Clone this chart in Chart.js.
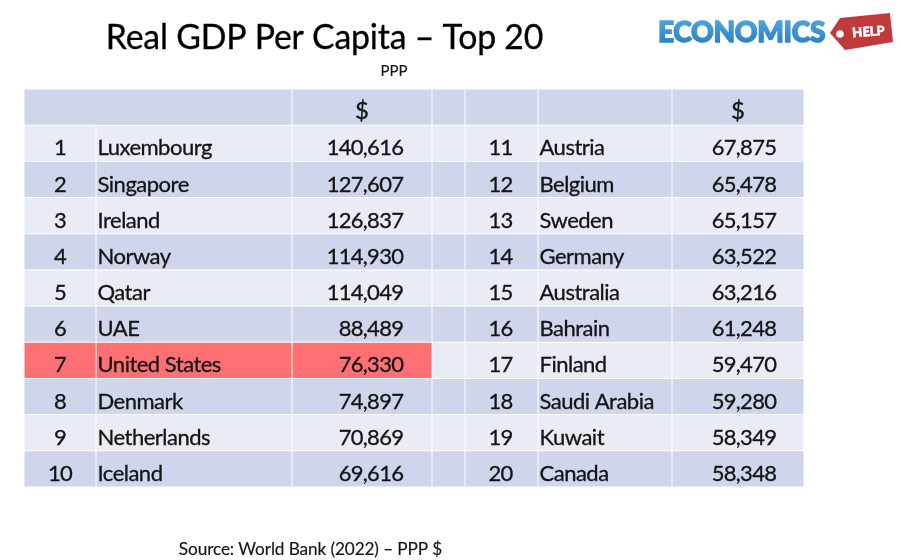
<!DOCTYPE html>
<html><head><meta charset="utf-8">
<style>html,body{margin:0;padding:0;background:#fff}#w{width:900px;height:560px}</style>
<script src="https://cdn.jsdelivr.net/npm/chart.js@4"></script></head>
<body><div id="w"><canvas id="c"></canvas></div>
<script>
const ranksLeft = [1,2,3,4,5,6,7,8,9,10];
const countriesLeft = ["Luxembourg","Singapore","Ireland","Norway","Qatar","UAE","United States","Denmark","Netherlands","Iceland"];
const gdpLeft = [140616,127607,126837,114930,114049,88489,76330,74897,70869,69616];
const ranksRight = [11,12,13,14,15,16,17,18,19,20];
const countriesRight = ["Austria","Belgium","Sweden","Germany","Australia","Bahrain","Finland","Saudi Arabia","Kuwait","Canada"];
const gdpRight = [67875,65478,65157,63522,63216,61248,59470,59280,58349,58348];
const unitLabel = "$";
const titleText = "Real GDP Per Capita \u2013 Top 20";
const subtitleText = "PPP";
const sourceText = "Source: World Bank (2022) \u2013 PPP $";
const columnSpans = [72,196,140,33,73,134,132];

const FONT = 'Lato, sans-serif';
const INK = '#141414';
const rows = ['header', ...ranksLeft.map(String)];
const highlightRow = countriesLeft.indexOf('United States') + 1;
const DARK = '#cfd5ea', LIGHT = '#e9ebf5', RED = '#ff7074';
function cellColor(rowIdx, colIdx){
  if (rowIdx === highlightRow && colIdx <= 2) return RED;
  return rowIdx % 2 === 0 ? DARK : LIGHT;
}
const total = columnSpans.reduce((a,b)=>a+b,0);
const datasets = columnSpans.map((span,col)=>({
  label:'col'+col,
  data: rows.map((_,r)=>{
    if (r===0 && col===0) return columnSpans[0]+columnSpans[1];
    if (r===0 && col===1) return null;
    return span;
  }),
  backgroundColor: rows.map((_,r)=>cellColor(r,col)),
  borderColor:'#ffffff', borderWidth:0.8, borderSkipped:false,
  barPercentage:1, categoryPercentage:1, stack:'t'
}));
const fmt = n => n.toLocaleString('en-US');

const tableText = {
  id:'tableText',
  afterDatasetsDraw(chart){
    const {ctx, scales:{x,y}} = chart;
    const edge = i => x.getPixelForValue(columnSpans.slice(0,i).reduce((a,b)=>a+b,0));
    ctx.save();
    ctx.textBaseline='middle';
    const put=(t,px,py,al,font,color,sp,bold)=>{
      ctx.font=font; ctx.textAlign=al; ctx.fillStyle=color||INK;
      ctx.letterSpacing=(sp||0)+'px';
      ctx.fillText(t,px,py);
      if(bold){ctx.strokeStyle=color||INK;ctx.lineWidth=bold;ctx.strokeText(t,px,py);}
      ctx.letterSpacing='0px';
    };
    const cell='22px '+FONT, sp=-0.3, numSp=-0.7, w=0.3;
    const yh=y.getPixelForValue(0)+4;
    put(unitLabel,(edge(2)+edge(3))/2,yh,'center','24px '+FONT,INK,0,w);
    put(unitLabel,(edge(6)+edge(7))/2,yh,'center','24px '+FONT,INK,0,w);
    ranksLeft.forEach((r,i)=>{
      const py=y.getPixelForValue(i+1)+5;
      put(String(r),(edge(0)+edge(1))/2,py,'center',cell,INK,numSp,w);
      put(countriesLeft[i],edge(1)+1.5,py,'left',cell,INK,sp-0.2,w);
      put(fmt(gdpLeft[i]),edge(3)-28.7,py,'right',cell,INK,numSp,w);
      put(String(ranksRight[i]),(edge(4)+edge(5))/2-1,py,'center',cell,INK,numSp,w);
      put(countriesRight[i],edge(5)+1.5,py,'left',cell,INK,sp-0.2,w);
      put(fmt(gdpRight[i]),edge(7)-27.7,py,'right',cell,INK,numSp,w);
    });
    put(titleText,324.5,38.5,'center','33.8px '+FONT,'#000',-0.2,0.3);
    put(subtitleText,394,71.5,'center','15px '+FONT,INK,0,0.15);
    put(sourceText,310.5,549.5,'center','17.2px '+FONT,INK,-0.1,0.15);
    // logo wordmark and tag
    const g=ctx.createLinearGradient(0,21,0,44);
    g.addColorStop(0,'#4ba3dc'); g.addColorStop(1,'#2b80c2');
    put('ECONOMICS',741.5,33,'center','900 28px '+FONT,g,-0.3,1.4);
    ctx.fillStyle='#c0393b';
    ctx.beginPath();
    ctx.moveTo(830,33);ctx.lineTo(840,18);ctx.lineTo(890,13);ctx.lineTo(893,42);ctx.lineTo(845,50);ctx.closePath();ctx.fill();
    ctx.fillStyle='#fff';ctx.beginPath();ctx.arc(840,34,3.8,0,7);ctx.fill();
    ctx.translate(868.5,32);ctx.rotate(-0.07);
    put('HELP',0,0,'center','900 13px '+FONT,'#fff',0,0.5);
    ctx.restore();
  }
};

new Chart(document.getElementById('c'),{
  type:'bar',
  data:{labels:rows,datasets},
  options:{
    indexAxis:'y',responsive:true,maintainAspectRatio:false,animation:false,
    layout:{padding:{left:24,right:96,top:89,bottom:73}},
    plugins:{legend:{display:false},tooltip:{enabled:false},title:{display:false}},
    scales:{
      x:{type:'linear',stacked:true,min:0,max:total,display:false},
      y:{type:'category',stacked:true,display:false}
    }
  },
  plugins:[tableText]
});
</script></body></html>
